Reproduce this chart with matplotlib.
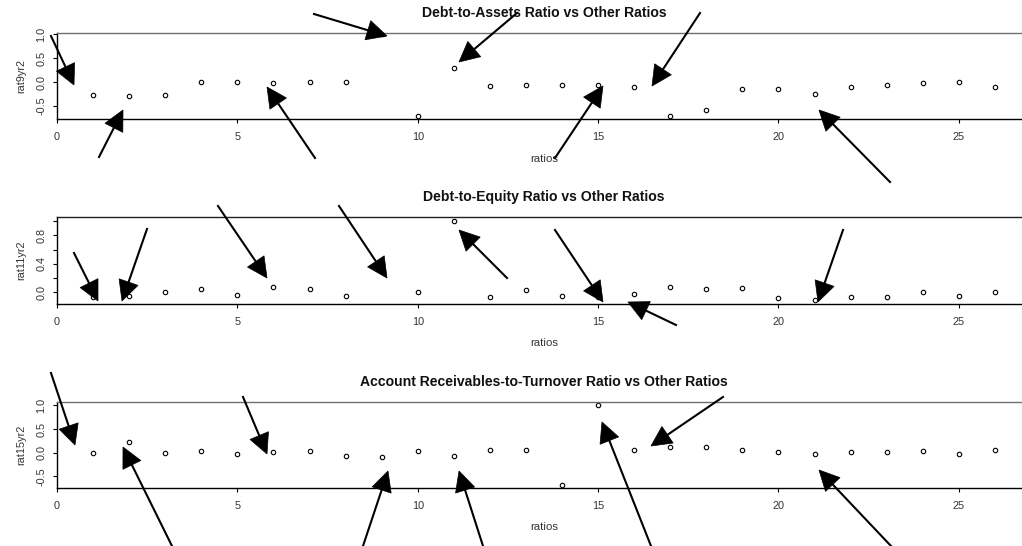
import numpy as np
import matplotlib
matplotlib.use("Agg")
import matplotlib.pyplot as plt
from matplotlib.patches import Polygon
from matplotlib.lines import Line2D

plt.rcParams["font.family"] = ["Liberation Sans", "DejaVu Sans"]

# ---- data -------------------------------------------------------------
ratios = [1, 2, 3, 4, 5, 6, 7, 8, 9, 10, 11, 12, 13,
          14, 15, 16, 17, 18, 19, 20, 21, 22, 23, 24, 25, 26]

rat9yr2 = [-0.28, -0.30, -0.28, -0.01, -0.01, -0.03, -0.01, 0.00, 1.00,
           -0.71, 0.30, -0.09, -0.07, -0.07, -0.07, -0.11, -0.71, -0.59,
           -0.15, -0.15, -0.26, -0.11, -0.07, -0.03, 0.01, -0.11]

rat11yr2 = [-0.06, -0.05, 0.01, 0.04, -0.04, 0.08, 0.04, -0.05, 0.30,
            0.01, 1.00, -0.06, 0.03, -0.05, -0.06, -0.02, 0.08, 0.05,
            0.065, -0.08, -0.11, -0.06, -0.06, 0.01, -0.05, 0.00]

rat15yr2 = [-0.01, 0.23, -0.01, 0.04, -0.03, 0.01, 0.04, -0.06, -0.09,
            0.04, -0.06, 0.06, 0.06, -0.68, 1.00, 0.06, 0.13, 0.11,
            0.06, 0.02, -0.02, 0.02, 0.02, 0.04, -0.03, 0.06]

titles = ["Debt-to-Assets Ratio vs Other Ratios",
          "Debt-to-Equity Ratio vs Other Ratios",
          "Account Receivables-to-Turnover Ratio vs Other Ratios"]
ylabels = ["rat9yr2", "rat11yr2", "rat15yr2"]
xlabel = "ratios"

xticks = [0, 5, 10, 15, 20, 25]
yticks = [[-0.5, 0.0, 0.5, 1.0],
          [0.0, 0.2, 0.4, 0.6, 0.8, 1.0],
          [-0.5, 0.0, 0.5, 1.0]]
yticklabels = [["-0.5", "0.0", "0.5", "1.0"],
               ["0.0", "", "0.4", "", "0.8", ""],
               ["-0.5", "0.0", "0.5", "1.0"]]

# ---- layout (pixels, measured from top-left) ---------------------------
W, H = 1022, 546
LEFT, RIGHT = 57, 1031
panel_rows = [(33, 119), (217.3, 303.7), (401.7, 488)]
ylims = [(-0.77, 1.02), (-0.16, 1.053), (-0.746, 1.078)]
top_spine_colors = ["#707070", "#202020", "#707070"]
xlim = (0, 27)

# pointer arrows overlaid on the figure: tail x, tail y, tip x, tip y
arrows = [
    (314, 14, 387, 36), (517, 13, 459, 62), (700, 13, 652, 86),
    (51, 36, 74, 85), (99, 157, 123, 110), (315, 158, 267, 87),
    (555, 158, 603, 86), (890, 182, 819, 110),
    (74, 253, 98, 301), (147, 229, 122, 301), (218, 206, 267, 278),
    (339, 206, 387, 278), (507, 278, 459, 230), (555, 230, 603, 302),
    (676, 325, 628, 302), (843, 230, 818, 302),
    (51, 373, 75, 445), (172, 546, 123, 447), (243, 397, 267, 454),
    (363, 546, 388, 471), (483, 546, 459, 471), (651, 546, 602, 422),
    (723, 397, 651, 446), (891, 546, 819, 470),
]
HEAD_LEN, HEAD_W = 20, 20

fig = plt.figure(figsize=(W / 100, H / 100), dpi=100)
fig.patch.set_facecolor("white")

series = [rat9yr2, rat11yr2, rat15yr2]
for i, (top, bot) in enumerate(panel_rows):
    ax = fig.add_axes([LEFT / W, 1 - bot / H, (RIGHT - LEFT) / W, (bot - top) / H])
    ax.plot(ratios, series[i], linestyle="none", marker="o", markersize=3.2,
            markerfacecolor="white", markeredgecolor="black", markeredgewidth=0.8)
    ax.set_xlim(*xlim)
    ax.set_ylim(*ylims[i])
    ax.set_xticks(xticks)
    ax.set_xticklabels([str(t) for t in xticks])
    ax.set_yticks(yticks[i])
    ax.set_yticklabels(yticklabels[i], rotation=90, va="center")
    ax.spines["right"].set_visible(False)
    for s in ("left", "bottom", "top"):
        ax.spines[s].set_linewidth(1.0)
    ax.spines["top"].set_color(top_spine_colors[i])
    ax.tick_params(axis="both", direction="out", length=3, width=0.8,
                   labelsize=7.8, labelcolor="#333333")
    ax.tick_params(axis="x", pad=6.5)
    ax.tick_params(axis="y", pad=4.5)
    hpx = bot - top
    ax.text(0.5, 1 + 20 / hpx, titles[i], transform=ax.transAxes,
            ha="center", va="center", fontsize=10.1, fontweight="bold",
            color="#111111")
    ax.set_xlabel(xlabel, fontsize=8.2, color="#333333")
    ax.xaxis.set_label_coords(0.5, -39.5 / hpx)
    ax.xaxis.label.set_va("center")
    ax.set_ylabel(ylabels[i], fontsize=7.8, color="#333333")
    ax.yaxis.set_label_coords(-36 / (RIGHT - LEFT), 0.5)
    ax.yaxis.label.set_va("center")


def to_fig(x, y):
    return (x / W, 1 - y / H)


for sx, sy, tx, ty in arrows:
    d = np.array([tx - sx, ty - sy], dtype=float)
    d /= np.hypot(*d)
    n = np.array([-d[1], d[0]])
    tip = np.array([tx, ty], dtype=float)
    base = tip - HEAD_LEN * d
    p1 = base + HEAD_W / 2 * n
    p2 = base - HEAD_W / 2 * n
    a, b = to_fig(sx, sy)
    c, e = to_fig(*base)
    fig.add_artist(Line2D([a, c], [b, e], transform=fig.transFigure,
                          color="black", linewidth=1.5, zorder=10))
    fig.add_artist(Polygon([to_fig(*tip), to_fig(*p1), to_fig(*p2)],
                           closed=True, transform=fig.transFigure,
                           facecolor="black", edgecolor="black",
                           linewidth=0.5, zorder=11))

fig.savefig("out.png", dpi=100)
